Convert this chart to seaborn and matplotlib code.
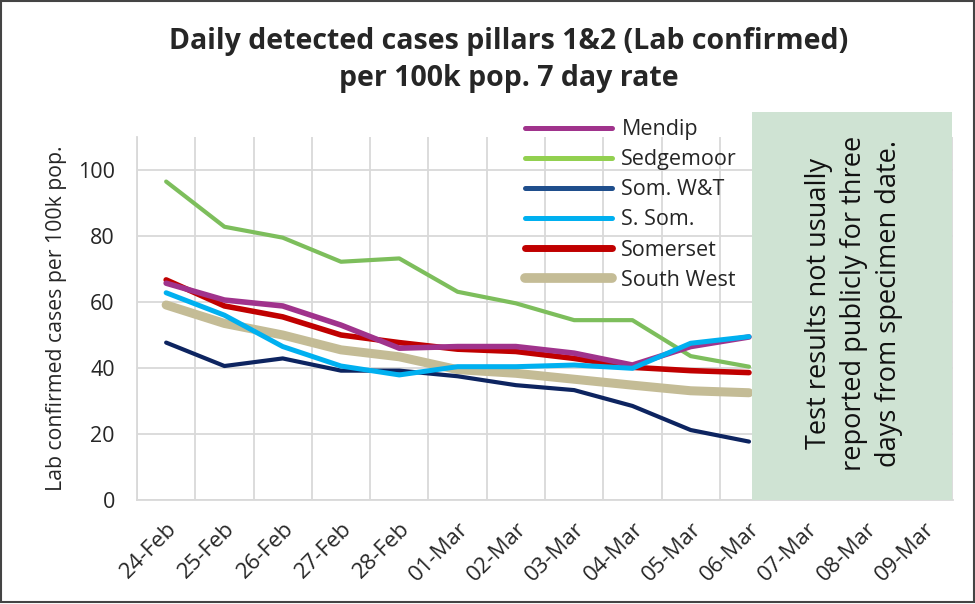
import numpy as np
import pandas as pd
import matplotlib
matplotlib.use("Agg")
import matplotlib.pyplot as plt
import seaborn as sns
from matplotlib.patches import Rectangle

# chart data
dates = ["24-Feb", "25-Feb", "26-Feb", "27-Feb", "28-Feb", "01-Mar", "02-Mar",
         "03-Mar", "04-Mar", "05-Mar", "06-Mar", "07-Mar", "08-Mar", "09-Mar"]

mendip = [65.7, 60.6, 58.8, 53.0, 46.0, 46.5, 46.5, 44.5, 40.9, 46.5, 49.4]
sedgemoor = [96.5, 82.8, 79.5, 72.2, 73.2, 63.1, 59.6, 54.5, 54.5, 43.6, 40.4]
som_wt = [47.7, 40.6, 42.9, 39.2, 39.2, 37.5, 34.8, 33.3, 28.5, 21.2, 17.7]
s_som = [62.8, 56.0, 46.5, 40.6, 37.9, 40.4, 40.4, 40.9, 39.9, 47.5, 49.5]
somerset = [66.7, 58.8, 55.5, 50.0, 47.7, 45.7, 45.0, 42.9, 40.2, 39.2, 38.6]
south_west = [59.1, 53.5, 50.0, 45.5, 43.4, 39.5, 38.4, 36.6, 34.8, 33.1, 32.5]

series_names = ["Mendip", "Sedgemoor", "Som. W&T", "S. Som.", "Somerset", "South West"]
series_values = [mendip, sedgemoor, som_wt, s_som, somerset, south_west]
colors = ["#A0338C", "#7DBE5C", "#0D2460", "#00B0F0", "#C00000", "#C4BC96"]
legend_colors = ["#A0338C", "#92D050", "#1F4E8C", "#00B0F0", "#C00000", "#C4BC96"]
widths = [4.0, 3.0, 3.0, 3.6, 4.0, 6.5]
zorders = [6, 4, 3, 7, 5, 2]

note = "Test results not usually\nreported publicly for three\ndays from specimen date."

rows = []
for name, vals in zip(series_names, series_values):
    for i, v in enumerate(vals):
        rows.append({"series": name, "pos": i, "value": v})
df = pd.DataFrame(rows)

sns.set_style("white")
plt.rcParams['font.family'] = ['Open Sans', 'DejaVu Sans']

fig = plt.figure(figsize=(9.75, 6.04), dpi=100)
ax = fig.add_axes([137 / 975, 1 - 500 / 604, 816 / 975, 363 / 604])

for name, c, w, z in zip(series_names, colors, widths, zorders):
    sub = df[df["series"] == name]
    sns.lineplot(data=sub, x="pos", y="value", ax=ax, color=c, linewidth=w,
                 zorder=z, label=name, legend=False)

ax.set_xlim(-0.5, len(dates) - 0.5)
ax.set_ylim(0, 110)
ax.set_yticks([0, 20, 40, 60, 80, 100])
ax.set_xticks(np.arange(len(dates)))
ax.set_xticklabels(dates, rotation=45, ha="right", rotation_mode="anchor", fontsize=16)
ax.set_xticks(np.arange(len(dates) + 1) - 0.5, minor=True)
ax.tick_params(axis="y", labelsize=15.5, length=0, pad=16)
ax.tick_params(axis="x", which="major", length=0, pad=13)
ax.tick_params(axis="x", which="minor", length=6, color="#D9D9D9", width=1.3)
ax.set_xlabel("")
ax.set_ylabel("Lab confirmed cases per 100k pop.", fontsize=15.3, labelpad=8)

ax.grid(axis="y", color="#D9D9D9", linewidth=1.3)
ax.grid(axis="x", which="minor", color="#D9D9D9", linewidth=1.3)
ax.set_axisbelow(True)
for s in ["top", "right"]:
    ax.spines[s].set_visible(False)
for s in ["left", "bottom"]:
    ax.spines[s].set_color("#D9D9D9")
    ax.spines[s].set_linewidth(1.3)

# shaded note box
box = Rectangle((10.05, 0), 3.43, 117.6, facecolor="#CFE3D3", edgecolor="none",
                zorder=10, clip_on=False)
ax.add_patch(box)
ax.text(11.8, 59.5, note, rotation=90, ha="center", va="center", fontsize=19.5,
        linespacing=1.35, color="#111111", zorder=11)

handles = [plt.Line2D([], [], color=c, linewidth=w)
           for c, w in zip(legend_colors, [3.6, 3.6, 3.6, 3.6, 5, 7])]
leg = ax.legend(handles, series_names, loc="upper left", bbox_to_anchor=(0.452, 1.102),
                frameon=False, fontsize=15.5, handlelength=4.05, labelspacing=0.42,
                handletextpad=0.42)
leg.set_zorder(12)

fig.text(0.522, 0.9, "Daily detected cases pillars 1&2 (Lab confirmed)\nper 100k pop. 7 day rate",
         ha="center", va="center", fontsize=20.5, fontweight="bold", linespacing=1.36)

fig.patches.append(Rectangle((0.001, 0.003), 0.998, 0.996, transform=fig.transFigure,
                             fill=False, edgecolor="#444444", linewidth=1.5))

fig.savefig("out.png", dpi=100)
